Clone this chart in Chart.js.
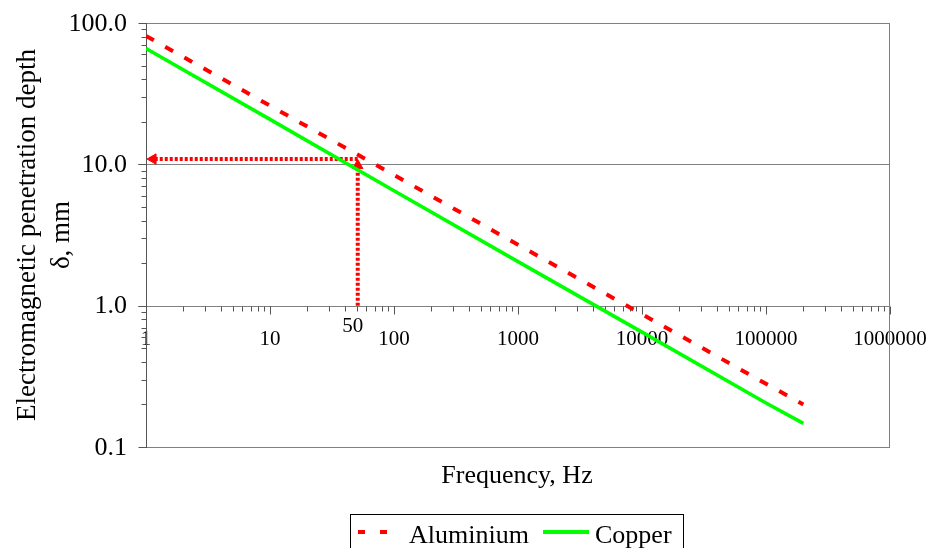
<!DOCTYPE html>
<html>
<head>
<meta charset="utf-8">
<script src="https://cdn.jsdelivr.net/npm/chart.js@4/dist/chart.umd.min.js"></script>
<style>
  html, body { margin: 0; padding: 0; background: #fff; }
  #wrap { width: 936px; height: 548px; }
</style>
</head>
<body>
<div id="wrap"><canvas id="depthChart" width="936" height="548"></canvas></div>
<script>
// Data
const frequencies = [1, 10, 100, 1000, 10000, 100000, 200000];
const aluminium = [81, 26, 8.4, 2.7, 0.87, 0.28, 0.2];
const copper = [66, 20.8, 6.5, 2.05, 0.65, 0.205, 0.147];

const xTickValues = [1, 10, 100, 1000, 10000, 100000, 1000000];
const xTickLabels = ['1', '10', '100', '1000', '10000', '100000', '1000000'];
const yTickValues = [0.1, 1, 10, 100];
const yTickLabels = ['0.1', '1.0', '10.0', '100.0'];

// 50 Hz reading marker
const markLabel = '50';
const markHorizX = [51, 1.14];
const markHorizY = [10.9, 10.9];
const markVertX = [51, 51];
const markVertY = [1, 9.8];

const SERIF = '"Liberation Serif", "Times New Roman", serif';

function pts(xs, ys) {
  return xs.map((x, i) => ({ x: x, y: ys[i] }));
}

function arrowRadius(ctx) {
  return ctx.dataIndex === ctx.dataset.data.length - 1 ? 6 : 0;
}

const axesPlugin = {
  id: 'axesPlugin',
  beforeDatasetsDraw(chart) {
    const ctx = chart.ctx;
    const a = chart.chartArea;
    const xs = chart.scales.x;
    const ys = chart.scales.y;
    ctx.save();

    // tick labels (drawn first so the axis line sits on top of "1")
    ctx.fillStyle = '#000';
    ctx.font = '26px ' + SERIF;
    ctx.textAlign = 'right';
    ctx.textBaseline = 'middle';
    yTickValues.forEach((v, i) => {
      ctx.fillText(yTickLabels[i], a.left - 19, ys.getPixelForValue(v) + 1);
    });
    const axisY = ys.getPixelForValue(1);
    ctx.font = '21px ' + SERIF;
    ctx.textAlign = 'center';
    ctx.textBaseline = 'alphabetic';
    xTickValues.forEach((v, i) => {
      ctx.fillText(xTickLabels[i], xs.getPixelForValue(v), axisY + 39);
    });
    ctx.fillText(markLabel, xs.getPixelForValue(markVertX[0]) - 5, axisY + 26);

    // horizontal grid lines and frame
    ctx.lineWidth = 1;
    ctx.strokeStyle = '#808080';
    yTickValues.forEach(v => {
      const y = Math.round(ys.getPixelForValue(v)) + 0.5;
      ctx.beginPath();
      ctx.moveTo(a.left, y);
      ctx.lineTo(a.right, y);
      ctx.stroke();
    });
    ctx.beginPath();
    ctx.moveTo(Math.round(a.right) - 0.5, a.top);
    ctx.lineTo(Math.round(a.right) - 0.5, a.bottom);
    ctx.stroke();

    // y axis with decade and minor ticks
    ctx.strokeStyle = '#555';
    const lx = Math.round(a.left) + 0.5;
    ctx.beginPath();
    ctx.moveTo(lx, a.top);
    ctx.lineTo(lx, a.bottom + 1);
    ctx.stroke();
    for (let d = 0.1; d < 100; d *= 10) {
      for (let m = 1; m <= 10; m++) {
        const v = d * m;
        const y = Math.round(ys.getPixelForValue(v)) + 0.5;
        const len = (m === 1 || m === 10) ? 8 : 5;
        ctx.beginPath();
        ctx.moveTo(lx - len, y);
        ctx.lineTo(lx, y);
        ctx.stroke();
      }
    }

    // x axis ticks along the 1.0 line
    const ay = Math.round(axisY) + 0.5;
    for (let d = 1; d < 1000000; d *= 10) {
      for (let m = 1; m <= 10; m++) {
        const x = Math.round(xs.getPixelForValue(d * m)) + 0.5;
        const len = (m === 10) ? 8 : 5;
        if (m === 1 && d === 1) continue;
        ctx.beginPath();
        ctx.moveTo(x, ay);
        ctx.lineTo(x, ay + len);
        ctx.stroke();
      }
    }
    ctx.restore();
  },
  afterDraw(chart) {
    const ctx = chart.ctx;
    const a = chart.chartArea;
    ctx.save();
    ctx.fillStyle = '#000';

    // axis titles
    ctx.font = '26px ' + SERIF;
    ctx.textAlign = 'center';
    ctx.textBaseline = 'alphabetic';
    ctx.fillText('Frequency, Hz', (a.left + a.right) / 2 - 1, a.bottom + 36);

    ctx.save();
    ctx.translate(0, (a.top + a.bottom) / 2);
    ctx.rotate(-Math.PI / 2);
    ctx.font = '27px ' + SERIF;
    ctx.fillText('Electromagnetic penetration depth', 0, 35);
    ctx.fillText('δ, mm', 0, 69);
    ctx.restore();

    // legend box
    const ds = chart.data.datasets;
    ctx.lineWidth = 1;
    ctx.strokeStyle = '#000';
    ctx.strokeRect(350.5, 514.5, 333, 40);
    const ly = 532;
    ctx.lineWidth = 4;
    ctx.strokeStyle = ds[0].borderColor;
    ctx.beginPath();
    ctx.moveTo(358, ly); ctx.lineTo(365, ly);
    ctx.moveTo(380, ly); ctx.lineTo(387, ly);
    ctx.stroke();
    ctx.strokeStyle = ds[1].borderColor;
    ctx.beginPath();
    ctx.moveTo(543, ly); ctx.lineTo(589, ly);
    ctx.stroke();
    ctx.font = '26px ' + SERIF;
    ctx.textAlign = 'left';
    ctx.fillText(ds[0].label, 409, 543);
    ctx.fillText(ds[1].label, 595, 543);
    ctx.restore();
  }
};

const bgPlugin = {
  id: 'bg',
  beforeDraw(chart) {
    const ctx = chart.ctx;
    ctx.save();
    ctx.fillStyle = '#fff';
    ctx.fillRect(0, 0, chart.width, chart.height);
    ctx.restore();
  }
};

new Chart(document.getElementById('depthChart'), {
  type: 'scatter',
  data: {
    datasets: [
      {
        label: 'Aluminium',
        data: pts(frequencies, aluminium),
        showLine: true,
        borderColor: '#ff0000',
        borderWidth: 4,
        borderDash: [9, 13],
        borderCapStyle: 'butt',
        pointRadius: 0,
        tension: 0
      },
      {
        label: 'Copper',
        data: pts(frequencies, copper),
        showLine: true,
        borderColor: '#00ff00',
        borderWidth: 3.5,
        pointRadius: 0,
        tension: 0
      },
      {
        label: 'mark-h',
        data: pts(markHorizX, markHorizY),
        showLine: true,
        borderColor: '#ff0000',
        backgroundColor: '#ff0000',
        borderWidth: 4,
        borderDash: [3, 2],
        pointStyle: 'triangle',
        pointRotation: -90,
        pointRadius: arrowRadius,
        pointBorderWidth: 1
      },
      {
        label: 'mark-v',
        data: pts(markVertX, markVertY),
        showLine: true,
        borderColor: '#ff0000',
        backgroundColor: '#ff0000',
        borderWidth: 4,
        borderDash: [3, 2],
        pointStyle: 'triangle',
        pointRotation: 0,
        pointRadius: arrowRadius,
        pointBorderWidth: 1
      }
    ]
  },
  options: {
    responsive: false,
    animation: false,
    layout: { padding: { left: 146, right: 46, top: 23, bottom: 101 } },
    plugins: {
      legend: { display: false },
      tooltip: { enabled: false }
    },
    scales: {
      x: { type: 'logarithmic', min: 1, max: 1000000, display: false },
      y: { type: 'logarithmic', min: 0.1, max: 100, display: false }
    }
  },
  plugins: [bgPlugin, axesPlugin]
});
</script>
</body>
</html>
